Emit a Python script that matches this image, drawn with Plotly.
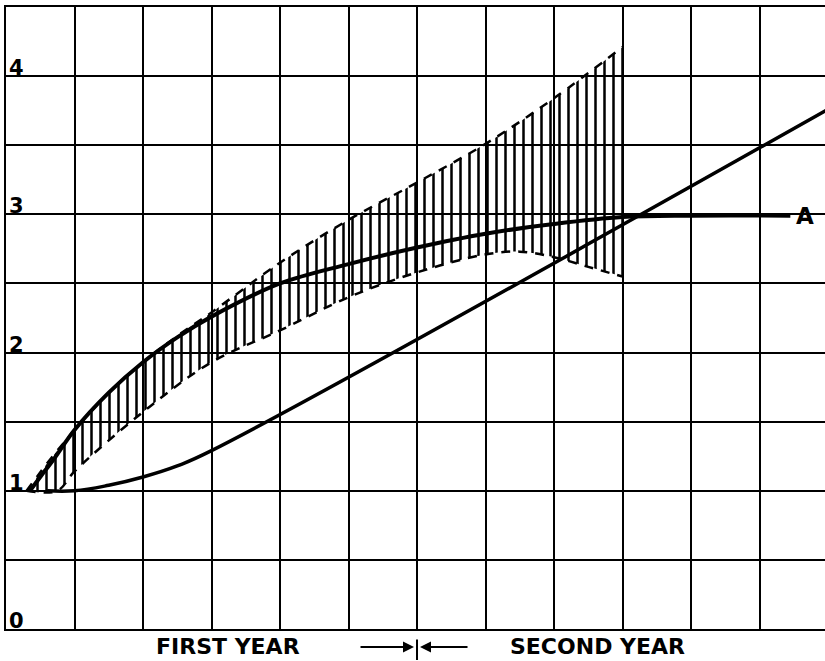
import plotly.graph_objects as go

# ---------------- data ----------------
# x is measured in grid cells (6 cells = first year, 6 cells = second year)
X_RANGE = [0, 11.956]
Y_RANGE = [0, 4.5]
YEAR_BOUNDARY = 6

Y_TICK_VALUES = [0, 1, 2, 3, 4]
Y_TICK_LABELS = ["0", "1", "2", "3", "4"]

# upper (dashed) edge of the hatched band
UPPER_X = [0.3, 0.45, 0.65, 0.85, 1.0, 1.5, 2.0, 2.5, 3.0, 4.0, 5.0, 6.0, 7.0, 8.0, 9.0]
UPPER_Y = [1.0, 1.10, 1.23, 1.35, 1.44, 1.71, 1.93, 2.12, 2.29, 2.65, 2.96, 3.23, 3.51, 3.84, 4.21]

# lower (dashed) edge of the hatched band
LOWER_X = [0.3, 0.75, 1.0, 2.0, 3.0, 4.0, 5.0, 6.0, 7.0, 7.5, 8.0, 8.5, 9.0]
LOWER_Y = [1.0, 1.0, 1.14, 1.57, 1.93, 2.16, 2.40, 2.58, 2.71, 2.73, 2.69, 2.62, 2.55]

# heavy curve "A"
CURVE_A_X = [0.35, 0.5, 0.7, 1.0, 1.5, 2.0, 2.5, 3.0, 4.0, 5.0, 6.0, 7.0, 8.0, 9.0, 10.0, 11.45]
CURVE_A_Y = [1.0, 1.10, 1.23, 1.44, 1.71, 1.93, 2.11, 2.26, 2.50, 2.64, 2.76, 2.86, 2.93, 2.98, 2.99, 2.99]
CURVE_A_LABEL = "A"

# lower curve that turns into a straight line
CURVE_B_X = [0.6, 1.0, 1.5, 2.0, 2.5, 3.0, 12.0]
CURVE_B_Y = [1.0, 1.0, 1.04, 1.10, 1.18, 1.29, 3.76]

FIRST_LABEL = "FIRST YEAR"
SECOND_LABEL = "SECOND YEAR"

FONT = "DejaVu Sans"

# ---------------- figure ----------------
fig = go.Figure()

fig.add_trace(go.Scatter(
    x=LOWER_X, y=LOWER_Y, mode="lines",
    line=dict(color="black", width=2.5, dash="9px,8px", shape="spline", smoothing=1.0),
    hoverinfo="skip",
))
fig.add_trace(go.Scatter(
    x=UPPER_X, y=UPPER_Y, mode="lines",
    line=dict(color="black", width=2.5, dash="9px,8px", shape="spline", smoothing=1.0),
    fill="tonexty",
    fillcolor="rgba(0,0,0,0)",
    fillpattern=dict(shape="|", size=9, solidity=0.28,
                     fgcolor="black", bgcolor="rgba(0,0,0,0)", fillmode="replace"),
    hoverinfo="skip",
))
fig.add_trace(go.Scatter(
    x=CURVE_A_X, y=CURVE_A_Y, mode="lines",
    line=dict(color="black", width=4, shape="spline", smoothing=1.0),
    hoverinfo="skip",
))
fig.add_trace(go.Scatter(
    x=CURVE_B_X, y=CURVE_B_Y, mode="lines",
    line=dict(color="black", width=3.5, shape="spline", smoothing=1.2),
    hoverinfo="skip",
))

# y value labels inside the grid
for v, t in zip(Y_TICK_VALUES, Y_TICK_LABELS):
    fig.add_annotation(x=X_RANGE[0], y=v, xref="x", yref="y", text="<b>" + t + "</b>",
                       showarrow=False, xanchor="left", yanchor="bottom",
                       xshift=2, yshift=-5, borderpad=0,
                       font=dict(family=FONT, size=21, color="black"))

# label A at the end of the heavy curve
fig.add_annotation(x=CURVE_A_X[-1], y=CURVE_A_Y[-1], xref="x", yref="y",
                   text="<b>" + CURVE_A_LABEL + "</b>", showarrow=False,
                   xanchor="left", yanchor="middle", xshift=4,
                   font=dict(family=FONT, size=23, color="black"))

# bottom legend: FIRST YEAR --->|<--- SECOND YEAR
label_y = -0.028
fig.add_annotation(x=YEAR_BOUNDARY - 2.76, y=label_y, xref="x", yref="paper",
                   text="<b>" + FIRST_LABEL + "</b>", showarrow=False,
                   xanchor="center", yanchor="middle", borderpad=0,
                   font=dict(family=FONT, size=22, color="black"))
fig.add_annotation(x=YEAR_BOUNDARY + 2.63, y=label_y, xref="x", yref="paper",
                   text="<b>" + SECOND_LABEL + "</b>", showarrow=False,
                   xanchor="center", yanchor="middle", borderpad=0,
                   font=dict(family=FONT, size=22, color="black"))
arrow_y = -0.029
fig.add_annotation(x=YEAR_BOUNDARY, y=arrow_y, xref="x", yref="paper", text="",
                   showarrow=True, ax=-58, ay=0, arrowhead=2, arrowsize=1.1,
                   arrowwidth=2, arrowcolor="black", standoff=3)
fig.add_annotation(x=YEAR_BOUNDARY, y=arrow_y, xref="x", yref="paper", text="",
                   showarrow=True, ax=52, ay=0, arrowhead=2, arrowsize=1.1,
                   arrowwidth=2, arrowcolor="black", standoff=3)
fig.add_annotation(x=YEAR_BOUNDARY, y=-0.05, xref="x", yref="paper", text="",
                   showarrow=True, ax=0, ay=-22, arrowhead=0,
                   arrowwidth=2, arrowcolor="black", standoff=0, startstandoff=0)

axis_common = dict(showgrid=True, gridcolor="black", gridwidth=2,
                   zeroline=False, showline=True, linecolor="black", linewidth=2,
                   showticklabels=False, ticks="", fixedrange=True)

fig.update_layout(
    width=825, height=661,
    margin=dict(l=6, r=0, t=7, b=32),
    paper_bgcolor="white", plot_bgcolor="white",
    showlegend=False,
    xaxis=dict(range=X_RANGE, tick0=0, dtick=1, mirror=True, **axis_common),
    yaxis=dict(range=Y_RANGE, tick0=0, dtick=0.5, mirror=False, **axis_common),
)

fig.write_html(
    "out.html",
    config={"displayModeBar": False},
    post_script="document.body.style.margin='0';document.body.style.padding='0';"
                "document.body.style.overflow='hidden';",
)
